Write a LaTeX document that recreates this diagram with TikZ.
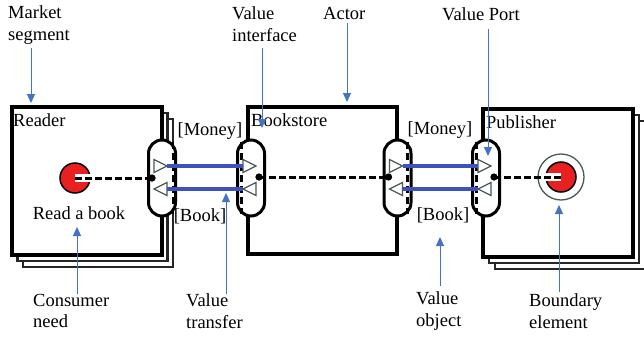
\documentclass[tikz,border=0pt]{standalone}
\usepackage{fontspec}
\setmainfont{Liberation Serif}
\usetikzlibrary{arrows.meta}
\definecolor{annblue}{RGB}{68,114,196}
\definecolor{flowblue}{RGB}{62,82,188}
\definecolor{stimred}{RGB}{232,32,32}
\definecolor{trigray}{RGB}{75,88,88}
\begin{document}
\begin{tikzpicture}[x=1pt,y=-1pt,
  lbl/.style={font=\fontsize{18.5}{21.5}\selectfont, inner sep=0pt, align=left},
  actorbox/.style={draw=black, line width=3.3pt, fill=white, minimum width=150pt, minimum height=148pt, inner sep=0pt},
  shadowbox/.style={draw=black!85, line width=2.5pt, fill=white, minimum width=150pt, minimum height=148pt, inner sep=0pt},
  capsule/.style={draw=black, line width=3pt, fill=white, rounded corners=13.5pt, minimum width=27pt, minimum height=76pt, inner sep=0pt},
  ifline/.style={draw=black, line width=2.4pt, dash pattern=on 7pt off 4pt},
  dot/.style={circle, fill=black, minimum size=7pt, inner sep=0pt},
  tri/.style={draw=trigray, line width=1.3pt, fill=white, line join=miter},
  flow/.style={draw=flowblue, line width=3.8pt},
  dep/.style={draw=black, line width=3pt, dash pattern=on 6.5pt off 3.5pt},
  notch/.style={draw=white, line width=8pt},
  ann/.style={draw=annblue, line width=1pt, -{Triangle[length=9pt,width=8pt]}}
]
\useasboundingbox (0,0) rectangle (644,337);
\fill[white] (0,0) rectangle (644,337);

% ---------- actors ----------
\node[shadowbox] (rs2) at (98,193) {};
\node[shadowbox] (rs1) at (92.5,187) {};
\node[actorbox] (reader) at (87,181) {};

\node[actorbox, minimum width=149pt, minimum height=147pt] (book) at (322.5,180.5) {};

\node[shadowbox] (ps2) at (570,195) {};
\node[shadowbox] (ps1) at (564,189) {};
\node[actorbox] (pub) at (558,183) {};

% ---------- value interfaces ----------
\node[capsule] (ri) at (162,178) {};
\node[capsule] (bli) at (251,178) {};
\node[capsule] (bri) at (397.5,178) {};
\node[capsule] (pi) at (486,178) {};

\draw[ifline] (173,142) -- (173,214);
\draw[ifline] (241.5,142) -- (241.5,214);
\draw[ifline] (407.5,142) -- (407.5,214);
\draw[ifline] (476.5,142) -- (476.5,214);

% ---------- stimuli ----------
\node[circle, draw=black, line width=1.5pt, fill=stimred, minimum size=30pt, inner sep=0pt] (need) at (75,178) {};
\node[circle, draw=trigray, line width=1.3pt, minimum size=46pt, inner sep=0pt] (bring) at (561,177) {};
\node[circle, draw=black, line width=1.5pt, fill=stimred, minimum size=30pt, inner sep=0pt] (bound) at (561,177) {};

\node[dot] (rd) at (152,178) {};
\node[dot] (bld) at (259,177) {};
\node[dot] (brd) at (388.5,177) {};
\node[dot] (pd) at (494,177) {};

\draw[notch] (need.center) -- (need.east);
\draw[notch] (bound.center) -- (bound.west);
\draw[dep] (need.center) -- (rd.center);
\draw[dep] (bld.center) -- (brd.center);
\draw[dep] (pd.center) -- (bound.center);
\node[dot] at (rd) {};
\node[dot] at (bld) {};
\node[dot] at (brd) {};
\node[dot] at (pd) {};

% ---------- value ports (triangles) ----------
% Reader
\draw[tri] (154,159.5) -- (167,166) -- (154,172.5) -- cycle;
\draw[tri] (167,182.5) -- (154,189) -- (167,195.5) -- cycle;
% Bookstore left
\draw[tri] (243,159.5) -- (256,166) -- (243,172.5) -- cycle;
\draw[tri] (256,182.5) -- (243,189) -- (256,195.5) -- cycle;
% Bookstore right
\draw[tri] (389.5,159.5) -- (402.5,166) -- (389.5,172.5) -- cycle;
\draw[tri] (402.5,182.5) -- (389.5,189) -- (402.5,195.5) -- cycle;
% Publisher
\draw[tri] (478,159.5) -- (491,166) -- (478,172.5) -- cycle;
\draw[tri] (491,182.5) -- (478,189) -- (491,195.5) -- cycle;

\coordinate (rmo) at (167,166);
\coordinate (blmi) at (243,166);
\coordinate (rbi) at (167,189);
\coordinate (blbo) at (243,189);
\coordinate (brmo) at (402.5,166);
\coordinate (pmi) at (478,166);
\coordinate (brbi) at (402.5,189);
\coordinate (pbo) at (478,189);

\draw[flow] (rmo) -- (blmi);
\draw[flow] (blbo) -- (rbi);
\draw[flow] (brmo) -- (pmi);
\draw[flow] (pbo) -- (brbi);

% ---------- texts in the model ----------
\node[lbl, anchor=west] (readerl) at (13,120) {Reader};
\node[lbl] (rab) at (79,213) {Read a book};
\node[lbl, anchor=west] (bookl) at (251,120) {Bookstore};
\node[lbl, anchor=west] (publ) at (486,122) {Publisher};
\node[lbl, fill=white, inner sep=1pt] (money1) at (210,131) {[Money]};
\node[lbl] (book1) at (200,216) {[Book]};
\node[lbl] (money2) at (440,130) {[Money]};
\node[lbl] (book2) at (443,215) {[Book]};

% ---------- annotations ----------
\node[lbl, anchor=west] (mkt) at (8,25) {Market\\segment};
\node[lbl, anchor=west] (vi) at (232,24) {Value\\interface};
\node[lbl, anchor=west] (act) at (323,13) {Actor};
\node[lbl, anchor=west] (vp) at (442,14) {Value Port};
\node[lbl, anchor=west] (cn) at (33,311) {Consumer\\need};
\node[lbl, anchor=west] (vt) at (186,311) {Value\\transfer};
\node[lbl, anchor=west] (vo) at (416,311) {Value\\object};
\node[lbl, anchor=west] (be) at (529,311) {Boundary\\element};

\coordinate (mkttip) at (31,103);
\coordinate (vitip) at (262,128);
\coordinate (acttip) at (347,102);
\coordinate (vptip) at (488,156);
\coordinate (cntip) at (77,227);
\coordinate (vttip) at (226,193);
\coordinate (votip) at (440,237);
\coordinate (betip) at (559,205);

\draw[ann, shorten <=4pt] (mkt.south -| mkttip) -- (mkttip);
\draw[ann, shorten <=7pt] (vi.south -| vitip) -- (vitip);
\draw[ann, shorten <=4pt] (act.south -| acttip) -- (acttip);
\draw[ann, shorten <=8pt] (vp.south -| vptip) -- (vptip);
\draw[ann, shorten <=0pt] (cn.north -| cntip) -- (cntip);
\draw[ann, shorten <=0pt] (vt.north -| vttip) -- (vttip);
\draw[ann, shorten <=6pt] (vo.north -| votip) -- (votip);
\draw[ann, shorten <=2pt] (be.north -| betip) -- (betip);
\end{tikzpicture}
\end{document}
